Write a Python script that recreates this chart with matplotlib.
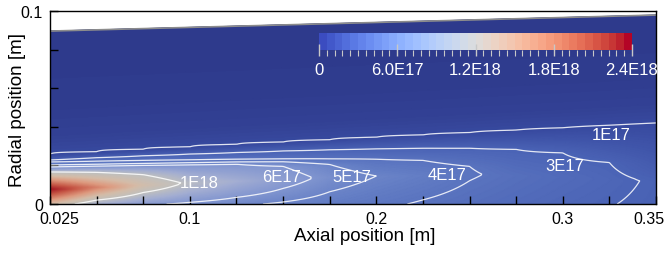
import numpy as np
import matplotlib
matplotlib.use('Agg')
import matplotlib.pyplot as plt
from matplotlib.colors import LinearSegmentedColormap, Normalize
from matplotlib.cm import ScalarMappable
import matplotlib.transforms as mtransforms

plt.rcParams['font.family'] = ['Liberation Sans', 'DejaVu Sans']

# ---------------- data (density in units of 1E17) ----------------
x_stations = [0.025, 0.05, 0.075, 0.1, 0.125, 0.15, 0.175, 0.2, 0.225, 0.25, 0.275, 0.3, 0.325, 0.35]
axis_density = [12.5, 7.8, 6.3, 5.7, 5.2, 4.85, 4.5, 4.2, 3.9, 3.65, 3.42, 3.2, 3.03, 2.85]
peak_density = [24.0, 17.5, 12.5, 9.5, 8.0, 6.7, 5.6, 5.0, 4.6, 4.1, 3.75, 3.45, 3.2, 2.9]
peak_radius = [0.008, 0.009, 0.010, 0.011, 0.012, 0.013, 0.014, 0.0145, 0.015, 0.0155, 0.015, 0.014, 0.013, 0.012]

nan = np.nan
# outer radius of each iso-density line at each station (nan: level not reached)
r_level_10 = [0.0166, 0.0164, 0.0152, nan, nan, nan, nan, nan, nan, nan, nan, nan, nan, nan]
r_level_6 = [0.0192, 0.0196, 0.0200, 0.0203, 0.0206, 0.0195, nan, nan, nan, nan, nan, nan, nan, nan]
r_level_5 = [0.0202, 0.0206, 0.0210, 0.0214, 0.0218, 0.0219, 0.0205, nan, nan, nan, nan, nan, nan, nan]
r_level_4 = [0.0218, 0.0222, 0.0226, 0.0229, 0.0232, 0.0234, 0.0234, 0.0232, 0.0226, 0.0195, nan, nan, nan, nan]
r_level_3 = [0.0228, 0.0240, 0.0250, 0.0259, 0.0267, 0.0275, 0.0281, 0.0286, 0.0289, 0.0289, 0.0283, 0.0265, 0.0215, nan]
r_level_1 = [0.0259, 0.0271, 0.0284, 0.0296, 0.0309, 0.0321, 0.0333, 0.0346, 0.0358, 0.0370, 0.0383, 0.0395, 0.0408, 0.0420]
contour_levels = [10, 6, 5, 4, 3, 1]
contour_labels = ['1E18', '6E17', '5E17', '4E17', '3E17', '1E17']
fade_offset = [0.010, 0.025]
fade_density = [0.45, 0.15]

wall_x = [0.025, 0.35]
wall_r = [0.0896, 0.0979]

cbar_ticks = [0, 6.0e17, 1.2e18, 1.8e18, 2.4e18]
cbar_tick_labels = ['0', '6.0E17', '1.2E18', '1.8E18', '2.4E18']
x_ticks = [0.025, 0.05, 0.075, 0.1, 0.125, 0.15, 0.175, 0.2, 0.225, 0.25, 0.275, 0.3, 0.325, 0.35]
x_tick_labels = ['0.025', '', '', '0.1', '', '', '', '0.2', '', '', '', '0.3', '', '0.35']
y_ticks = [0, 0.02, 0.04, 0.06, 0.08, 0.1]
y_tick_labels = ['0', '', '', '', '', '0.1']

# label placement (axial, radial)
label_pos = [(0.1049, 0.0109), (0.1494, 0.0140), (0.1869, 0.0140),
             (0.2379, 0.0155), (0.3011, 0.0202), (0.3258, 0.0358)]

# ---------------- build field ----------------
level_radii = [r_level_10, r_level_6, r_level_5, r_level_4, r_level_3, r_level_1]
xs = np.asarray(x_stations)
eta = np.linspace(0, 1, 500)
rw_st = np.interp(xs, wall_x, wall_r)
cols = []
for i in range(len(xs)):
    kr = [0.0, peak_radius[i]]
    kv = [axis_density[i], peak_density[i]]
    for L, rl in zip(contour_levels, level_radii):
        if not np.isnan(rl[i]):
            kr.append(rl[i]); kv.append(L)
    for off, dv in zip(fade_offset, fade_density):
        kr.append(r_level_1[i] + off); kv.append(dv)
    kr.append(rw_st[i]); kv.append(0.0)
    cols.append(np.interp(eta * rw_st[i], kr, kv))
cols = np.array(cols)
xf = np.linspace(x_stations[0], x_stations[-1], 500)
Z = np.array([np.interp(xf, xs, cols[:, j]) for j in range(len(eta))]) * 1e17
X = np.tile(xf, (len(eta), 1))
R = eta[:, None] * np.interp(xf, wall_x, wall_r)[None, :]

vmax = 2.4e18
knots = [(0.0, (46, 58, 140)), (1/24, (56, 74, 160)), (3/24, (75, 100, 182)),
         (4.5/24, (98, 124, 196)), (6/24, (130, 150, 208)), (8/24, (165, 175, 210)),
         (10/24, (192, 192, 192)), (13/24, (214, 188, 168)), (16/24, (222, 155, 128)),
         (20/24, (200, 90, 72)), (1.0, (165, 25, 35))]
field_cmap = LinearSegmentedColormap.from_list(
    'field', [(p, tuple(c / 255 for c in col)) for p, col in knots])

# ---------------- figure ----------------
fig = plt.figure(figsize=(6.68, 2.55), dpi=100)
ax = fig.add_axes([50/668, 50/255, 606/668, 193/255])
ax.pcolormesh(X, R, Z, shading='gouraud', cmap=field_cmap, norm=Normalize(0, vmax))
ax.contour(X, R, Z, levels=sorted(L * 1e17 for L in contour_levels),
           colors='white', linewidths=0.9, alpha=0.85)
ax.plot(wall_x, wall_r, color='#8c8c8c', lw=1.2)
for txt, (lx, lr) in zip(contour_labels, label_pos):
    ax.text(lx, lr, txt, color='white', fontsize=12, ha='center', va='center')

ax.set_xlim(0.025, 0.35)
ax.set_ylim(0, 0.1)
ax.set_xticks(x_ticks, x_tick_labels)
ax.set_yticks(y_ticks, y_tick_labels)
ax.tick_params(direction='in', length=5.8, width=1, labelsize=11.5, color='black')
ax.tick_params(axis='x', pad=5)
ax.tick_params(axis='y', pad=5)
for s in ax.spines.values():
    s.set_linewidth(1.0)
    s.set_color('black')
lbls = ax.get_xticklabels()
lbls[0].set_transform(lbls[0].get_transform() + mtransforms.ScaledTranslation(9/100, 0, fig.dpi_scale_trans))
lbls[-1].set_transform(lbls[-1].get_transform() + mtransforms.ScaledTranslation(-7/100, 0, fig.dpi_scale_trans))

ax.set_xlabel('Axial position [m]', fontsize=13.5)
ax.set_ylabel('Radial position [m]', fontsize=13.5)
ax.xaxis.set_label_coords(0.519, -0.12)
ax.yaxis.set_label_coords(-0.04, 0.49)

# colorbar
cax = fig.add_axes([319/668, (255-51)/255, 313/668, 17/255])
sm = ScalarMappable(norm=Normalize(0, vmax), cmap=plt.get_cmap('coolwarm').resampled(40))
cb = fig.colorbar(sm, cax=cax, orientation='horizontal')
cb.outline.set_visible(False)
cb.set_ticks(cbar_ticks, labels=cbar_tick_labels)
cb.set_ticks(list(np.arange(0, 2.4e18 + 1e16, 6e16)), minor=True)
cax.tick_params(which='major', direction='inout', length=8.6, width=1, color='#c8c8c8',
                labelcolor='white', labelsize=12, pad=4)
cax.tick_params(which='minor', direction='out', length=4.3, width=0.8, color='#c8c8c8')

fig.savefig('out.png', dpi=100)
